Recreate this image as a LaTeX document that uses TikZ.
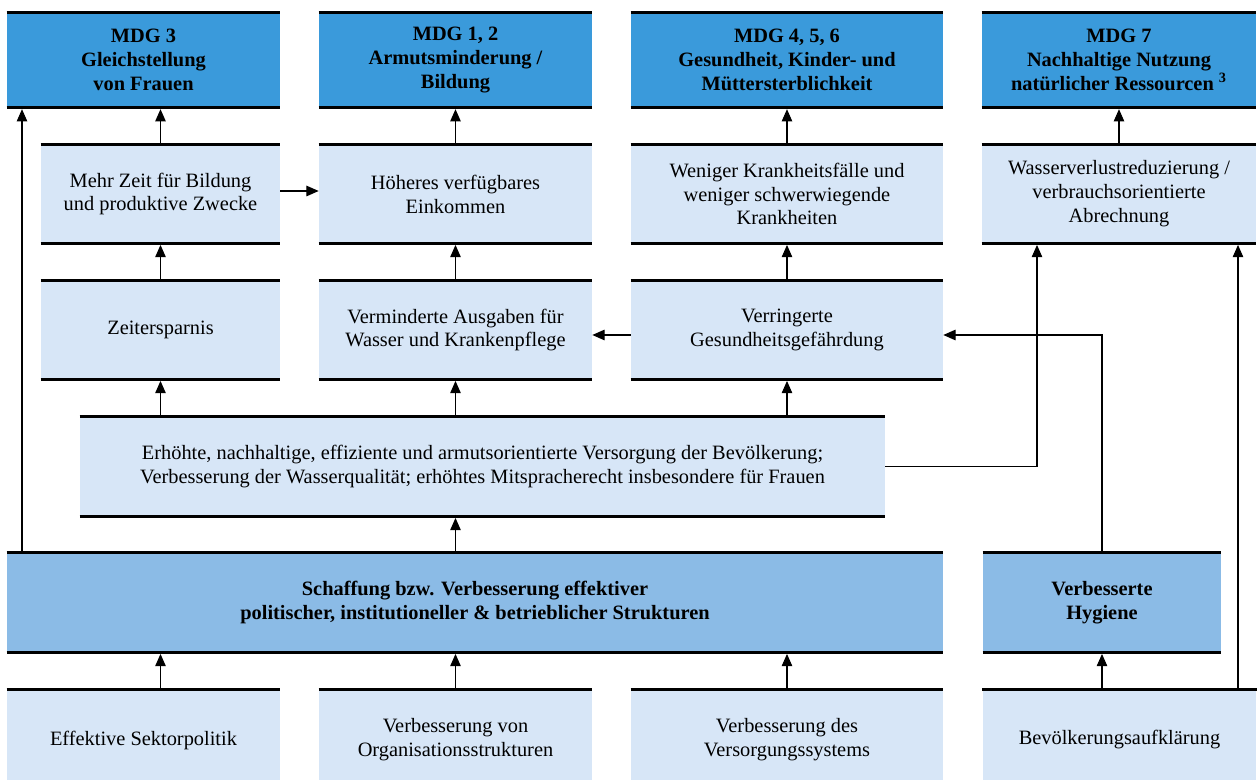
\documentclass[tikz,border=0pt]{standalone}
\usepackage{fontspec}
\setmainfont{Liberation Serif}
\usepackage{tikz}
\usetikzlibrary{arrows.meta}
\usetikzlibrary{positioning}
\definecolor{mdgblau}{RGB}{58,154,219}
\definecolor{mittelblau}{RGB}{139,187,230}
\definecolor{hellblau}{RGB}{215,230,247}

\tikzset{
  balken/.style={draw=black, line width=1.9pt},
  feld/.style={inner sep=0pt, align=center, font=\fontsize{11.6}{13.6}\selectfont,
    append after command={
      (\tikzlastnode.north west) edge[balken] (\tikzlastnode.north east)
      (\tikzlastnode.south west) edge[balken] (\tikzlastnode.south east)}},
  ziel/.style={feld, fill=mdgblau, font=\fontsize{11.6}{13.6}\selectfont\bfseries},
  wirkung/.style={feld, fill=hellblau},
  basis/.style={feld, fill=mittelblau, font=\fontsize{11.6}{13.6}\selectfont\bfseries},
  pfeil/.style={line width=0.6pt, -{Triangle[length=7pt,width=6pt]}, shorten >=0.9pt},
  quer/.style={pfeil, shorten >=0pt}
}

\begin{document}
\begin{tikzpicture}[x=0.02cm, y=-0.02cm]
    \useasboundingbox (0,0) rectangle (1259,780);

    % MDG row
    \node[ziel, minimum width=5.46cm, minimum height=1.89cm] (mdgdrei) at (143.5,60) {MDG 3\\Gleichstellung\\von Frauen};
    \node[ziel, minimum width=5.46cm, minimum height=1.89cm] (mdgeins) at (455.5,60) {MDG 1, 2\\Armutsminderung /\\Bildung};
    \node[ziel, minimum width=6.24cm, minimum height=1.89cm] (mdgvier) at (787,60) {MDG 4, 5, 6\\Gesundheit, Kinder- und\\Müttersterblichkeit};
    \node[ziel, minimum width=5.48cm, minimum height=1.89cm] (mdgsieben) at (1119,60) {MDG 7\\Nachhaltige Nutzung\\natürlicher Ressourcen \textsuperscript{3}};

    % impacts
    \node[wirkung, minimum width=4.78cm, minimum height=1.96cm] (zeit) at (160.5,194) {Mehr Zeit für Bildung\\und produktive Zwecke};
    \node[wirkung, minimum width=5.46cm, minimum height=1.96cm] (einkommen) at (455.5,194) {Höheres verfügbares\\Einkommen};
    \node[wirkung, minimum width=6.24cm, minimum height=1.96cm] (krank) at (787,194) {Weniger Krankheitsfälle und\\weniger schwerwiegende\\Krankheiten};
    \node[wirkung, minimum width=5.48cm, minimum height=1.96cm] (abrechnung) at (1119,194) {Wasserverlustreduzierung /\\verbrauchsorientierte\\Abrechnung};

    \node[wirkung, minimum width=4.78cm, minimum height=1.96cm] (sparnis) at (160.5,330) {Zeitersparnis};
    \node[wirkung, minimum width=5.46cm, minimum height=1.96cm] (ausgaben) at (455.5,330) {Verminderte Ausgaben für\\Wasser und Krankenpflege};
    \node[wirkung, minimum width=6.24cm, minimum height=1.96cm] (gefahr) at (787,330) {Verringerte\\Gesundheitsgefährdung};

    \node[wirkung, minimum width=16.1cm, minimum height=1.98cm] (versorgung) at (482.5,466.5) {Erhöhte, nachhaltige, effiziente und armutsorientierte Versorgung der Bevölkerung;\\Verbesserung der Wasserqualität; erhöhtes Mitspracherecht insbesondere für Frauen};

    % structures
    \node[basis, minimum width=18.72cm, minimum height=1.98cm] (strukturen) at (475,602.5) {Schaffung bzw. Verbesserung effektiver\\politischer, institutioneller \& betrieblicher Strukturen};
    \node[basis, minimum width=4.76cm, minimum height=1.98cm] (hygiene) at (1102,602.5) {Verbesserte\\Hygiene};

    % measures
    \node[wirkung, minimum width=5.46cm, minimum height=2cm] (sektor) at (143.5,740) {Effektive Sektorpolitik};
    \node[wirkung, minimum width=5.46cm, minimum height=2cm] (organisation) at (455.5,740) {Verbesserung von\\Organisationsstrukturen};
    \node[wirkung, minimum width=6.24cm, minimum height=2cm] (system) at (787,740) {Verbesserung des\\Versorgungssystems};
    \node[wirkung, minimum width=5.48cm, minimum height=2cm] (aufklaerung) at (1119.5,740) {Bevölkerungsaufklärung};

    \coordinate (links) at (22,0);
    \coordinate (knick) at (1037,0);
    \coordinate (rechts) at (1238,0);
    \coordinate (mitte) at (0,335);
    \coordinate (oben) at (0,191);

    % arrows
    \draw[pfeil] (zeit.north) -- (mdgdrei.south -| zeit);
    \draw[pfeil] (einkommen.north) -- (mdgeins.south);
    \draw[pfeil] (krank.north) -- (mdgvier.south);
    \draw[pfeil] (abrechnung.north) -- (mdgsieben.south);
    \draw[quer] (zeit.east |- oben) -- (einkommen.west |- oben);
    \draw[pfeil] (sparnis.north) -- (zeit.south);
    \draw[pfeil] (ausgaben.north) -- (einkommen.south);
    \draw[pfeil] (gefahr.north) -- (krank.south);
    \draw[quer] (gefahr.west |- mitte) -- (ausgaben.east |- mitte);
    \draw[pfeil] (versorgung.north -| sparnis) -- (sparnis.south);
    \draw[pfeil] (versorgung.north -| ausgaben) -- (ausgaben.south);
    \draw[pfeil] (versorgung.north -| gefahr) -- (gefahr.south);
    \draw[pfeil] (versorgung.east) -| (abrechnung.south -| knick);
    \draw[pfeil] (strukturen.north -| ausgaben) -- (versorgung.south -| ausgaben);
    \draw[pfeil] (strukturen.north -| links) -- (mdgdrei.south -| links);
    \draw[quer] (hygiene.north) |- (gefahr.east |- mitte);
    \draw[pfeil] (sektor.north -| zeit) -- (strukturen.south -| zeit);
    \draw[pfeil] (organisation.north) -- (strukturen.south -| organisation);
    \draw[pfeil] (system.north) -- (strukturen.south -| system);
    \draw[pfeil] (aufklaerung.north -| hygiene) -- (hygiene.south);
    \draw[pfeil] (aufklaerung.north -| rechts) -- (abrechnung.south -| rechts);
  \end{tikzpicture}
\end{document}
